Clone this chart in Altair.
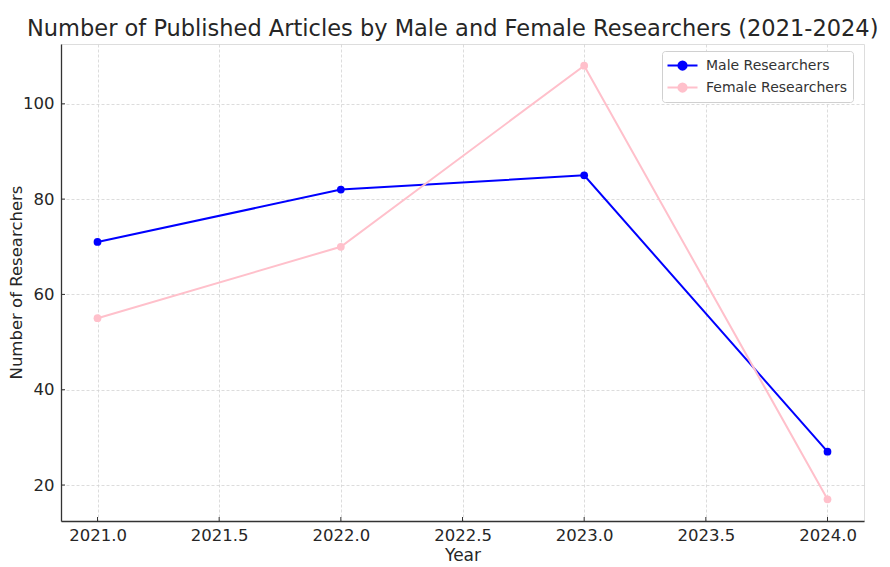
import altair as alt
import pandas as pd

years = [2021, 2022, 2023, 2024]
male = [71, 82, 85, 27]
female = [55, 70, 108, 17]
series_names = ["Male Researchers", "Female Researchers"]
series_colors = ["#0000FF", "#FFC0CB"]
x_ticks = [2021.0, 2021.5, 2022.0, 2022.5, 2023.0, 2023.5, 2024.0]
y_ticks = [20, 40, 60, 80, 100]

rows = []
for y, m, f in zip(years, male, female):
    rows.append({"Year": y, "Value": m, "Series": series_names[0]})
    rows.append({"Year": y, "Value": f, "Series": series_names[1]})
df = pd.DataFrame(rows)

FONT = "DejaVu Sans"
xscale = alt.Scale(domain=[2020.85, 2024.15], nice=False, zero=False)
yscale = alt.Scale(domain=[12.45, 112.55], nice=False, zero=False)

r = 0.55
sym = f"M-2,0H2M-{r},0A{r},{r},0,1,1,{r},0A{r},{r},0,1,1,-{r},0Z"

legend = alt.Legend(
    title=None,
    orient="none",
    legendX=601,
    legendY=7,
    symbolType=sym,
    symbolSize=225,
    symbolStrokeWidth=2,
    labelFont=FONT,
    labelFontSize=14,
    labelColor="#333333",
    labelLimit=300,
    labelOffset=15,
    rowPadding=5,
    padding=6,
    strokeColor="#d0d0d0",
    fillColor="white",
    cornerRadius=3,
    symbolOffset=6,
)

cscale = alt.Scale(domain=series_names, range=series_colors)

xenc = alt.X(
    "Year:Q",
    scale=xscale,
    axis=alt.Axis(
        values=x_ticks,
        format=".1f",
        title="Year",
        titleFont=FONT,
        titleFontSize=17,
        titleFontWeight="normal",
        titleColor="#262626",
        titleBaseline="alphabetic",
        titleY=39,
        labelFont=FONT,
        labelFontSize=16.5,
        labelColor="#262626",
        labelPadding=6,
        ticks=False,
        domainColor="#333333",
        domainWidth=1.3,
        grid=True,
        gridColor="#d3d3d3",
        gridDash=[3, 2],
        gridWidth=0.8,
    ),
)
yenc = alt.Y(
    "Value:Q",
    scale=yscale,
    axis=alt.Axis(
        values=y_ticks,
        title="Number of Researchers",
        titleFont=FONT,
        titleFontSize=16.5,
        titleFontWeight="normal",
        titleColor="#262626",
        titleBaseline="alphabetic",
        titleX=-40,
        titleY=238,
        labelFont=FONT,
        labelFontSize=16.5,
        labelColor="#262626",
        labelPadding=7,
        ticks=False,
        domainColor="#333333",
        domainWidth=1.3,
        grid=True,
        gridColor="#d3d3d3",
        gridDash=[3, 2],
        gridWidth=0.8,
    ),
)

lines = alt.Chart(df).mark_line(strokeWidth=2).encode(
    x=xenc, y=yenc, stroke=alt.Stroke("Series:N", scale=cscale, legend=legend)
)
points = alt.Chart(df).mark_point(filled=True, shape="circle", size=60, opacity=1).encode(
    x=xenc, y=yenc, fill=alt.Fill("Series:N", scale=cscale, legend=legend)
)

tick_df_y = pd.DataFrame({"v": y_ticks})
tick_df_x = pd.DataFrame({"v": x_ticks})
yt = alt.Chart(tick_df_y).mark_rule(color="#333333", strokeWidth=1).encode(
    y=alt.Y("v:Q", scale=yscale), x=alt.value(0), x2=alt.value(4)
)
xt = alt.Chart(tick_df_x).mark_rule(color="#333333", strokeWidth=1).encode(
    x=alt.X("v:Q", scale=xscale), y=alt.value(477), y2=alt.value(473)
)

chart = (
    alt.layer(lines, points, yt, xt)
    .properties(
        width=803,
        height=477,
        padding={"left": 53, "top": 36, "right": 18, "bottom": 42},
        autosize=alt.AutoSizeParams(type="none"),
        title=alt.TitleParams(
            "Number of Published Articles by Male and Female Researchers (2021-2024)",
            font=FONT,
            fontSize=22.5,
            fontWeight="normal",
            color="#262626",
            anchor="start",
            frame="group",
            dx=-34,
            offset=4,
        ),
    )
    .configure_view(stroke=None)
    .configure(background="white")
)

chart.save("out.html", embed_options={"renderer": "svg", "actions": False})
